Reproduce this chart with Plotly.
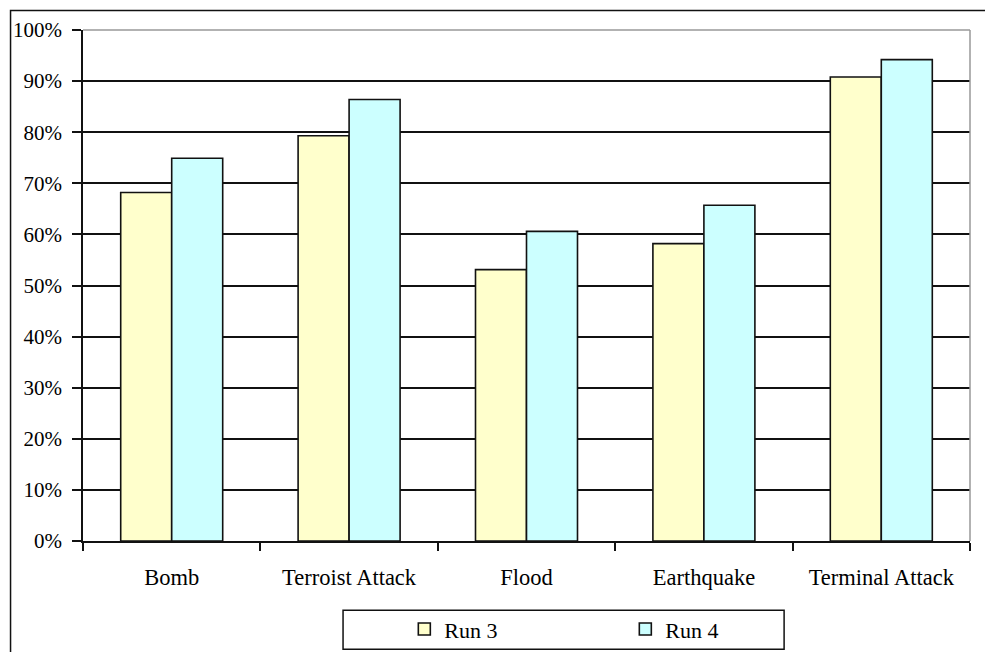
import plotly.graph_objects as go

categories = ["Bomb", "Terroist Attack", "Flood", "Earthquake", "Terminal Attack"]
run3 = [0.682, 0.793, 0.531, 0.582, 0.908]
run4 = [0.749, 0.864, 0.606, 0.657, 0.942]
series_names = ["Run 3", "Run 4"]
colors = ["#FFFFCC", "#CCFFFF"]

W, H = 985, 652
L, R, T, B = 82.5, 15, 29.5, 111.3
pw, ph = W - L - R, H - T - B

def px_to_paper_x(px):
    return (px - L) / pw

def px_to_paper_y(py):
    return (H - B - py) / ph

FONT = "Liberation Serif, Times New Roman, serif"

fig = go.Figure()
for name, vals, col in zip(series_names, [run3, run4], colors):
    fig.add_trace(go.Bar(
        x=categories, y=vals, name=name,
        marker=dict(color=col, line=dict(color="#111111", width=1.6)),
        hoverinfo="x+y",
    ))

shapes = [
    # outer frame
    dict(type="rect", xref="paper", yref="paper",
         x0=px_to_paper_x(10), x1=px_to_paper_x(1100),
         y0=px_to_paper_y(800), y1=px_to_paper_y(10),
         line=dict(color="#111111", width=1.5), layer="below"),
    # plot area top/right border (grey)
    dict(type="line", xref="paper", yref="paper", x0=0, x1=1, y0=1, y1=1,
         line=dict(color="#999999", width=1.5), layer="above"),
    dict(type="line", xref="paper", yref="paper", x0=1, x1=1, y0=0, y1=1,
         line=dict(color="#999999", width=1.5), layer="above"),
    # legend box
    dict(type="rect", xref="paper", yref="paper",
         x0=px_to_paper_x(342.7), x1=px_to_paper_x(784),
         y0=px_to_paper_y(649), y1=px_to_paper_y(610),
         line=dict(color="#111111", width=1.5), fillcolor="white", layer="below"),
]

fig.update_layout(
    width=W, height=H,
    margin=dict(l=L, r=R, t=T, b=B, pad=0, autoexpand=False),
    paper_bgcolor="white", plot_bgcolor="white",
    font=dict(family=FONT, size=21, color="black"),
    barmode="group", bargap=0.425, bargroupgap=0,
    showlegend=True,
    legend=dict(orientation="h", x=px_to_paper_x(404), xanchor="left",
                y=px_to_paper_y(629), yanchor="middle",
                entrywidth=176, entrywidthmode="pixels",
                bgcolor="rgba(0,0,0,0)", borderwidth=0,
                font=dict(family=FONT, size=22, color="black")),
    shapes=shapes,
    xaxis=dict(type="category", tickson="boundaries", ticks="outside", ticklen=8,
               tickwidth=1.5, tickcolor="#111111", automargin=False,
               showline=True, linecolor="#111111", linewidth=1.5,
               showgrid=False, ticklabelstandoff=15,
               tickfont=dict(family=FONT, size=22.5, color="black")),
    yaxis=dict(range=[0, 1], dtick=0.1, tickformat=".0%", ticks="outside", ticklen=9,
               tickwidth=1.5, tickcolor="#111111", automargin=False,
               showline=True, linecolor="#111111", linewidth=1.5,
               showgrid=True, gridcolor="#111111", gridwidth=1.5, zeroline=False,
               ticklabelstandoff=6,
               tickfont=dict(family=FONT, size=21, color="black")),
)

fig.write_html("out.html", config={"displayModeBar": False},
               post_script="document.body.style.margin='0';document.body.style.padding='0';")
